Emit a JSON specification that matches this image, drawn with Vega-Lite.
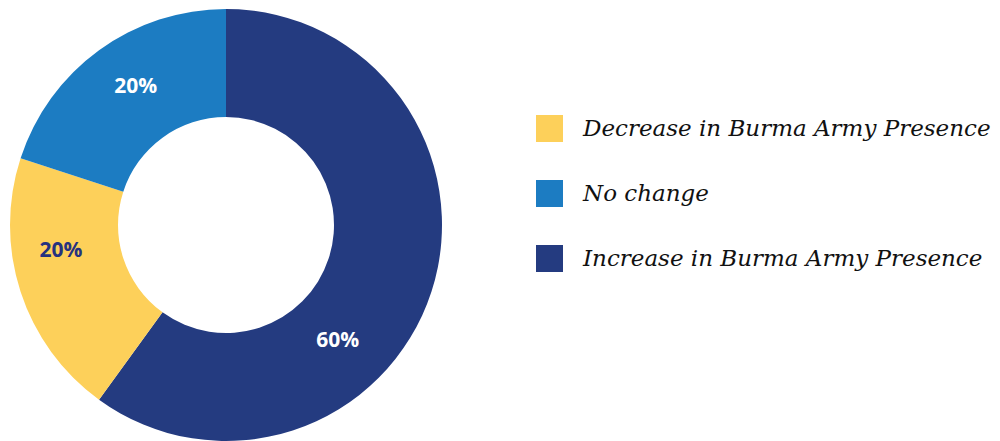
{
  "$schema": "https://vega.github.io/schema/vega-lite/v6.json",
  "width": 452,
  "height": 450,
  "padding": 0,
  "background": "white",
  "view": {"stroke": null},
  "data": {"values": [
    {"category": "Increase in Burma Army Presence", "value": 60, "label": "60%", "order": 1},
    {"category": "Decrease in Burma Army Presence", "value": 20, "label": "20%", "order": 2},
    {"category": "No change", "value": 20, "label": "20%", "order": 3}
  ]},
  "encoding": {
    "theta": {"field": "value", "type": "quantitative", "stack": true},
    "order": {"field": "order", "type": "quantitative"}
  },
  "layer": [
    {
      "mark": {"type": "arc", "outerRadius": 216, "innerRadius": 108},
      "encoding": {
        "color": {
          "field": "category", "type": "nominal",
          "scale": {
            "domain": ["Decrease in Burma Army Presence", "No change", "Increase in Burma Army Presence"],
            "range": ["#FDD05A", "#1C7CC2", "#243B80"]
          },
          "legend": {
            "title": null,
            "orient": "none",
            "legendX": 536,
            "legendY": 115,
            "symbolType": "square",
            "symbolSize": 729,
            "symbolStrokeWidth": 0,
            "symbolOpacity": 1,
            "labelFont": "DejaVu Serif",
            "labelFontStyle": "italic",
            "labelFontSize": 23,
            "labelColor": "#111111",
            "labelOffset": 20,
            "labelLimit": 500,
            "rowPadding": 38
          }
        }
      }
    },
    {
      "mark": {"type": "text", "radius": 161, "thetaOffset": 0.49, "font": "Open Sans", "fontWeight": "bold", "fontSize": 21, "color": "white"},
      "encoding": {
        "text": {"field": "label"},
        "opacity": {"condition": {"test": "datum.order == 1", "value": 1}, "value": 0}
      }
    },
    {
      "mark": {"type": "text", "radius": 167, "thetaOffset": 0.16, "font": "Open Sans", "fontWeight": "bold", "fontSize": 21, "color": "#26327F"},
      "encoding": {
        "text": {"field": "label"},
        "opacity": {"condition": {"test": "datum.order == 2", "value": 1}, "value": 0}
      }
    },
    {
      "mark": {"type": "text", "radius": 165, "thetaOffset": 0.05, "font": "Open Sans", "fontWeight": "bold", "fontSize": 21, "color": "white"},
      "encoding": {
        "text": {"field": "label"},
        "opacity": {"condition": {"test": "datum.order == 3", "value": 1}, "value": 0}
      }
    }
  ]
}
